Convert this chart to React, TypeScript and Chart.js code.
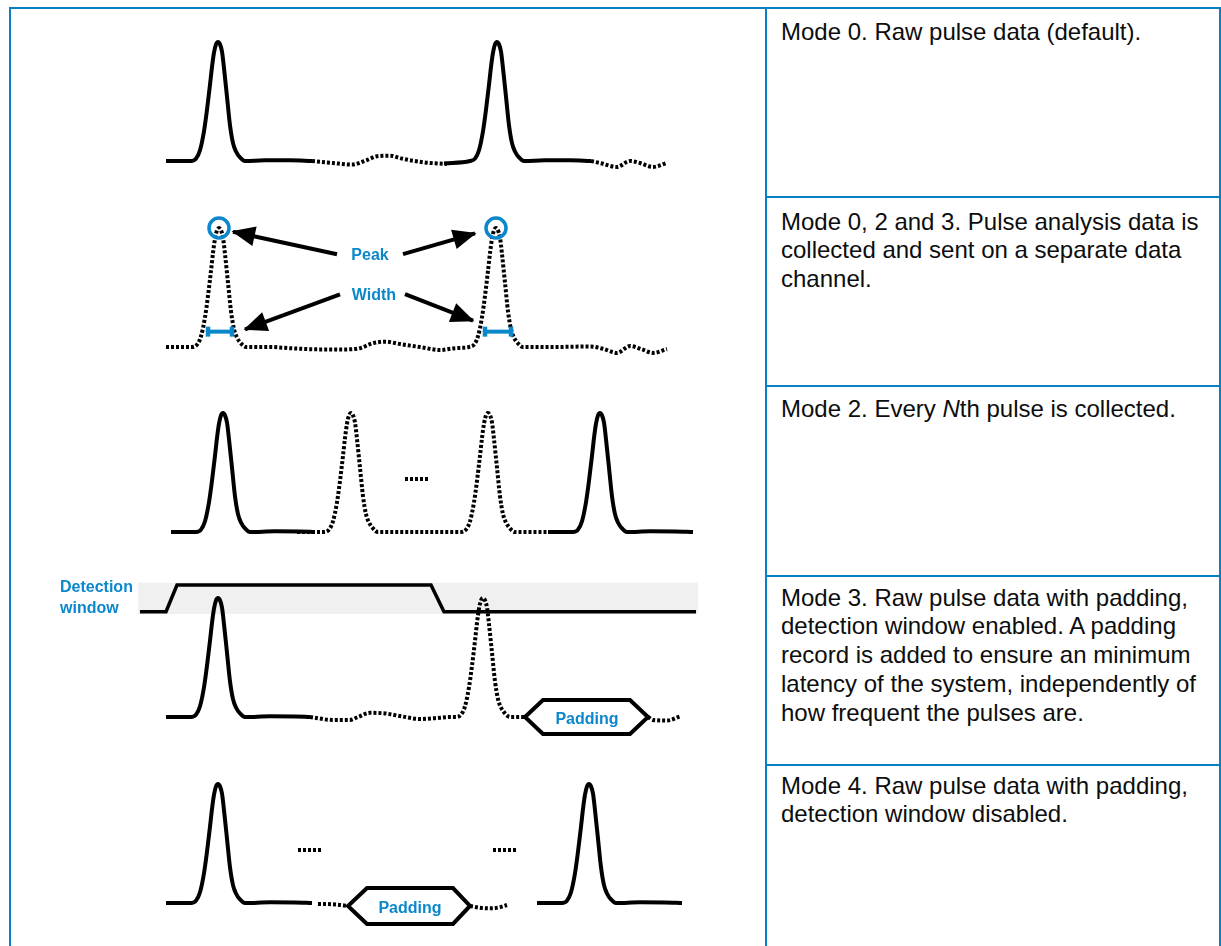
import React, { useEffect, useRef } from "react";
import { Chart, registerables } from "chart.js";

Chart.register(...registerables);

type Pt = [number, number];

// ---------- shared pulse profile (offset from pulse centre, relative amplitude) ----------
const PULSE_DX = [-27, -22, -18, -14, -11, -8, -6, -4, -2, 0, 2, 4, 6, 9, 12, 15, 18, 22, 27];
const PULSE_AMP = [0, 0.02, 0.09, 0.25, 0.43, 0.64, 0.79, 0.91, 0.98, 1, 0.98, 0.92, 0.78, 0.54, 0.3, 0.15, 0.08, 0.03, 0];
const pulse = (c: number): Pt[] => PULSE_DX.map((d, i) => [c + d, PULSE_AMP[i]] as Pt);

// ---------- Row 1: raw pulse data ----------
const R1_SOLID_A: Pt[] = [[166, 0], ...pulse(218), [265, 0.006], [290, 0.006], [312, 0]];
const R1_DOTTED_A: Pt[] = [[312, 0], [333, -0.017], [352, -0.03], [366, 0.005], [377, 0.04], [390, 0.045], [402, 0.02], [425, -0.012], [447, -0.025]];
const R1_SOLID_B: Pt[] = [[444, -0.02], ...pulse(497), [545, 0.006], [570, 0.006], [591, 0]];
const R1_DOTTED_B: Pt[] = [[591, 0], [600, -0.017], [617, -0.05], [630, 0], [640, -0.017], [653, -0.05], [667, -0.017]];

// ---------- Row 2: pulse analysis ----------
const R2_DOTTED: Pt[] = [[166, 0], ...pulse(219), [270, 0], [290, -0.01], [320, -0.02], [345, -0.02], [360, -0.01], [372, 0.03], [385, 0.045], [400, 0.025], [420, 0], [440, -0.025], [455, -0.01], ...pulse(496), [555, 0], [590, 0.005], [603, -0.015], [617, -0.05], [630, 0.008], [642, -0.02], [653, -0.05], [667, -0.017]];
const R2_PEAKS: Pt[] = [[219, 1], [496, 1]];
const R2_WIDTH_L: Pt[] = [[208, 0.129], [232, 0.129]];
const R2_WIDTH_R: Pt[] = [[485, 0.129], [511, 0.129]];
const R2_ARROW_PEAK_L: Pt[] = [[337, 0.78], [233, 0.969]];
const R2_ARROW_PEAK_R: Pt[] = [[403, 0.78], [475, 0.955]];
const R2_ARROW_WIDTH_L: Pt[] = [[340, 0.443], [245, 0.149]];
const R2_ARROW_WIDTH_R: Pt[] = [[405, 0.445], [473, 0.221]];

// ---------- Row 3: every Nth pulse ----------
const R3_SOLID_A: Pt[] = [[171, 0], ...pulse(223), [275, 0.006], [300, 0.005], [315, 0]];
const R3_DOTTED: Pt[] = [[297, 0], ...pulse(351), [410, 0], [440, 0], ...pulse(488), [535, 0], [548, 0]];
const R3_SOLID_B: Pt[] = [[548, 0], ...pulse(600), [650, 0.006], [675, 0.005], [693, 0]];
const R3_ELLIPSIS: Pt[] = [[405, 0.445], [428, 0.445]];

// ---------- Row 4: detection window + padding ----------
const R4_WINDOW_BAND: Pt[] = [[138, 1.129], [698, 1.129]];
const R4_WINDOW_BAND_LOW = 0.866;
const R4_WINDOW: Pt[] = [[140, 0.885], [166, 0.885], [177, 1.109], [431, 1.109], [444, 0.885], [696, 0.885]];
const R4_SOLID: Pt[] = [[166, 0], ...pulse(218), [270, 0.006], [295, 0.005], [310, 0]];
const R4_DOTTED_A: Pt[] = [[310, 0], [333, -0.025], [350, -0.025], [358, 0], [370, 0.035], [385, 0.03], [400, 0.008], [420, -0.017], [435, -0.01], [450, 0], ...pulse(483), [525, 0]];
const R4_PADDING: Pt[] = [[586, 0.143], [630, 0.143], [648, 0], [630, -0.143], [543, -0.143], [525, 0], [543, 0.143], [586, 0.143]];
const R4_DOTTED_B: Pt[] = [[648, 0], [653, -0.025], [667, -0.03], [680, 0.005]];

// ---------- Row 5: padding, window disabled ----------
const R5_SOLID_A: Pt[] = [[166, 0], ...pulse(218), [270, 0.006], [295, 0.005], [312, 0]];
const R5_ELLIPSIS_A: Pt[] = [[298, 0.445], [322, 0.445]];
const R5_ELLIPSIS_B: Pt[] = [[493, 0.445], [517, 0.445]];
const R5_DOTTED_A: Pt[] = [[318, -0.008], [335, -0.012], [348, -0.025]];
const R5_PADDING: Pt[] = [[410, 0.126], [453, 0.126], [470, -0.025], [453, -0.176], [367, -0.176], [348, -0.025], [367, 0.126], [410, 0.126]];
const R5_DOTTED_B: Pt[] = [[470, -0.025], [480, -0.04], [492, -0.045], [500, -0.035], [507, -0.017]];
const R5_SOLID_B: Pt[] = [[537, 0], ...pulse(589), [640, 0.006], [665, 0.005], [682, 0]];

// ---------- text ----------
const MODE_TEXT: React.ReactNode[][] = [
  ["Mode 0. Raw pulse data (default)."],
  ["Mode 0, 2 and 3. Pulse analysis data is", "collected and sent on a separate data", "channel."],
  [<>Mode 2. Every <i>N</i>th pulse is collected.</>],
  ["Mode 3. Raw pulse data with padding,", "detection window enabled. A padding", "record is added to ensure an minimum", "latency of the system, independently of", "how frequent the pulses are."],
  ["Mode 4. Raw pulse data with padding,", "detection window disabled."],
];

// ---------- style ----------
const BORDER_BLUE = "#0a7fc2";
const LABEL_BLUE = "#0b87cb";
const FONT = '"Liberation Sans", Arial, Helvetica, sans-serif';
const UNIT = 119; // px per unit amplitude
const ROW_TOP = [9, 198, 387, 576, 765];
const ROW_H = [189, 189, 189, 189, 181];
const ROW_BASE = [152, 149, 145, 141, 138];
const DIVIDERS = [196, 385, 575, 764];
const TEXT_TOP = [17.5, 207.5, 394.5, 583.5, 771.5];

const xy = (pts: Pt[]) => pts.map(([x, y]) => ({ x, y }));
const base: any = { pointRadius: 0, fill: false, clip: false, borderColor: "#000", backgroundColor: "transparent" };
const solid = (pts: Pt[], extra: any = {}) => ({ ...base, data: xy(pts), borderWidth: 4, cubicInterpolationMode: "monotone", ...extra });
const dotted = (pts: Pt[], extra: any = {}) => ({ ...base, data: xy(pts), borderWidth: 4, borderDash: [3, 2], cubicInterpolationMode: "monotone", ...extra });
const straight = (pts: Pt[], w: number, color = "#000", extra: any = {}) => ({ ...base, data: xy(pts), borderWidth: w, borderColor: color, tension: 0, borderJoinStyle: "miter", ...extra });
const arrow = (pts: Pt[]) => ({ ...straight(pts, 4), arrowHead: true });
const widthMarker = (pts: Pt[]) => ({
  ...straight(pts, 4, LABEL_BLUE),
  pointStyle: "line", pointRotation: 90, pointRadius: 5, pointBorderWidth: 4.5, pointBorderColor: LABEL_BLUE,
});

const ROWS: { datasets: any[]; labels: any[] }[] = [
  {
    datasets: [solid(R1_SOLID_A), dotted(R1_DOTTED_A), solid(R1_SOLID_B), dotted(R1_DOTTED_B)],
    labels: [],
  },
  {
    datasets: [
      {
        ...base, data: xy(R2_PEAKS), showLine: false, pointRadius: 10, pointBorderWidth: 3.5,
        pointBorderColor: LABEL_BLUE, pointBackgroundColor: "rgba(0,0,0,0)", pointStyle: "circle",
      },
      widthMarker(R2_WIDTH_L), widthMarker(R2_WIDTH_R),
      arrow(R2_ARROW_PEAK_L), arrow(R2_ARROW_PEAK_R), arrow(R2_ARROW_WIDTH_L), arrow(R2_ARROW_WIDTH_R),
      dotted(R2_DOTTED),
    ],
    labels: [
      { text: "Peak", x: 370, y: 0.731, align: "center" },
      { text: "Width", x: 374, y: 0.395, align: "center" },
    ],
  },
  {
    datasets: [solid(R3_SOLID_A), dotted(R3_DOTTED), solid(R3_SOLID_B), dotted(R3_ELLIPSIS, { cubicInterpolationMode: "default" })],
    labels: [],
  },
  {
    datasets: [
      { ...base, data: xy(R4_WINDOW_BAND), borderWidth: 0, fill: { value: R4_WINDOW_BAND_LOW }, backgroundColor: "#f0f0f0", order: 10 },
      straight(R4_WINDOW, 3.5),
      solid(R4_SOLID), dotted(R4_DOTTED_A),
      straight(R4_PADDING, 4),
      dotted(R4_DOTTED_B),
    ],
    labels: [
      { text: "Detection", x: 60, y: 1.05, align: "left" },
      { text: "window", x: 60, y: 0.876, align: "left" },
      { text: "Padding", x: 587, y: -0.055, align: "center" },
    ],
  },
  {
    datasets: [
      solid(R5_SOLID_A),
      dotted(R5_ELLIPSIS_A, { cubicInterpolationMode: "default" }),
      dotted(R5_ELLIPSIS_B, { cubicInterpolationMode: "default" }),
      dotted(R5_DOTTED_A),
      straight(R5_PADDING, 4),
      dotted(R5_DOTTED_B),
      solid(R5_SOLID_B),
    ],
    labels: [{ text: "Padding", x: 410, y: -0.082, align: "center" }],
  },
];

const diagramPlugin: any = {
  id: "diagram",
  afterDatasetsDraw(chart: any, _args: any, opts: any) {
    const ctx = chart.ctx;
    chart.data.datasets.forEach((ds: any, i: number) => {
      if (!ds.arrowHead) return;
      const pts = chart.getDatasetMeta(i).data;
      if (pts.length < 2) return;
      const a = pts[pts.length - 2];
      const b = pts[pts.length - 1];
      const ang = Math.atan2(b.y - a.y, b.x - a.x);
      const L = 22, W = 10;
      const c = Math.cos(ang), s = Math.sin(ang);
      const bx = b.x - L * c, by = b.y - L * s;
      ctx.save();
      ctx.fillStyle = ds.borderColor;
      ctx.beginPath();
      ctx.moveTo(b.x + 1.5 * c, b.y + 1.5 * s);
      ctx.lineTo(bx - W * s, by + W * c);
      ctx.lineTo(bx + W * s, by - W * c);
      ctx.closePath();
      ctx.fill();
      ctx.restore();
    });
    const labels = (opts && opts.labels) || [];
    ctx.save();
    ctx.font = `bold 16px ${FONT}`;
    ctx.fillStyle = LABEL_BLUE;
    ctx.textBaseline = "alphabetic";
    labels.forEach((l: any) => {
      ctx.textAlign = l.align;
      ctx.fillText(l.text, chart.scales.x.getPixelForValue(l.x), chart.scales.y.getPixelForValue(l.y));
    });
    ctx.restore();
  },
};

function RowChart({ idx }: { idx: number }) {
  const ref = useRef<HTMLCanvasElement>(null);
  useEffect(() => {
    const row = ROWS[idx];
    const h = ROW_H[idx];
    const ymax = ROW_BASE[idx] / UNIT;
    const ymin = ymax - h / UNIT;
    const chart = new Chart(ref.current as HTMLCanvasElement, {
      type: "line",
      data: { datasets: row.datasets },
      options: {
        animation: false,
        responsive: true,
        maintainAspectRatio: false,
        events: [],
        layout: { padding: 0, autoPadding: false } as any,
        scales: {
          x: { type: "linear", min: 11, max: 765, bounds: "data", display: false },
          y: { type: "linear", min: ymin, max: ymax, bounds: "data", display: false },
        },
        plugins: {
          legend: { display: false },
          tooltip: { enabled: false },
          diagram: { labels: row.labels },
        } as any,
      },
      plugins: [diagramPlugin],
    } as any);
    return () => chart.destroy();
  }, [idx]);
  return (
    <div style={{ position: "absolute", left: 11, top: ROW_TOP[idx], width: 754, height: ROW_H[idx] }}>
      <canvas ref={ref} style={{ display: "block" }} />
    </div>
  );
}

export default function App() {
  return (
    <div style={{ position: "absolute", left: 0, top: 0, width: 1221, height: 946, overflow: "hidden", background: "#fff", fontFamily: FONT }}>
      <div style={{ position: "absolute", left: 9, top: 7, width: 1212, height: 980, boxSizing: "border-box", border: `2px solid ${BORDER_BLUE}` }} />
      <div style={{ position: "absolute", left: 765, top: 7, width: 2, height: 980, background: BORDER_BLUE }} />
      {DIVIDERS.map((t, i) => (
        <div key={i} style={{ position: "absolute", left: 765, top: t, width: 456, height: 2, background: BORDER_BLUE }} />
      ))}
      {MODE_TEXT.map((lines, i) => (
        <div key={i} style={{ position: "absolute", left: 781, top: TEXT_TOP[i], fontSize: "24px", lineHeight: "28.8px", color: "#0d0d0d", whiteSpace: "nowrap" }}>
          {lines.map((l, j) => (
            <div key={j}>{l}</div>
          ))}
        </div>
      ))}
      {ROWS.map((_, i) => (
        <RowChart key={i} idx={i} />
      ))}
    </div>
  );
}
